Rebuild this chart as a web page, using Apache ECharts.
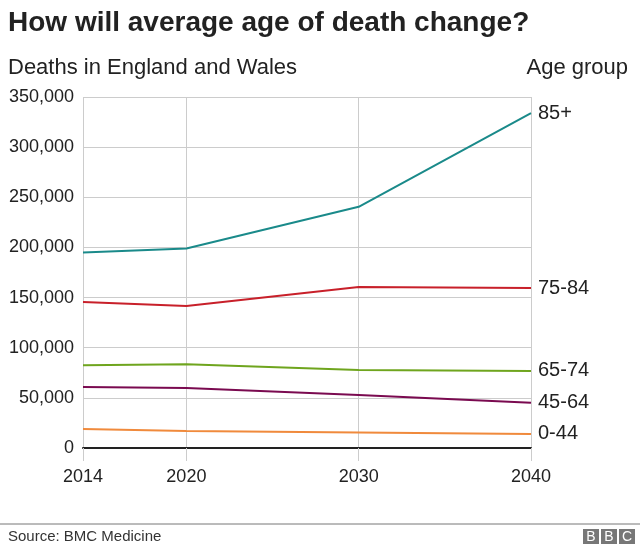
<!DOCTYPE html>
<html>
<head>
<meta charset="utf-8">
<script src="https://cdn.jsdelivr.net/npm/echarts@6/dist/echarts.min.js"></script>
<style>
html,body{margin:0;padding:0;background:#fff;}
#c{width:640px;height:550px;}
</style>
</head>
<body>
<div id="c"></div>
<script>
var years = [2014, 2020, 2030, 2040];
var xTicks = [2014, 2020, 2030, 2040];
var yTicks = [0, 50000, 100000, 150000, 200000, 250000, 300000, 350000];
var ageGroups = ['85+', '75-84', '65-74', '45-64', '0-44'];
var s85 = [195000, 199000, 240500, 334000];
var s75 = [145500, 141500, 160500, 159500];
var s65 = [82500, 83500, 77800, 76800];
var s45 = [60800, 59800, 52800, 45000];
var s0 = [19000, 17000, 15500, 14000];
var seriesValues = [s85, s75, s65, s45, s0];
var colors = ['#1a8a8a', '#c8202a', '#6fa51e', '#7a0a50', '#f08a3c'];

function fmt(v){ return String(v).replace(/\B(?=(\d{3})+(?!\d))/g, ','); }

var chart = echarts.init(document.getElementById('c'));
var font = 'Liberation Sans, Arial, Helvetica, sans-serif';
chart.setOption({
  animation: false,
  textStyle: {fontFamily: font},
  title: [
    {text: 'How will average age of death change?', left: 3, top: 4, padding: 5,
     textStyle: {fontSize: 28, fontWeight: 'bold', color: '#222', fontFamily: font}},
    {text: 'Deaths in England and Wales', left: 3, top: 52, padding: 5,
     textStyle: {fontSize: 22, fontWeight: 'normal', color: '#222', fontFamily: font}},
    {text: 'Age group', right: 7, top: 52, padding: 5,
     textStyle: {fontSize: 22, fontWeight: 'normal', color: '#222', fontFamily: font}},
    {text: 'Source: BMC Medicine', left: 3, top: 524, padding: 5,
     textStyle: {fontSize: 15, fontWeight: 'normal', color: '#333', fontFamily: font}}
  ],
  graphic: [
    {type: 'line', shape: {x1: 0, y1: 524, x2: 640, y2: 524}, style: {stroke: '#777', lineWidth: 1}},
    {type: 'rect', shape: {x: 583, y: 529, width: 16, height: 15}, style: {fill: '#777'}},
    {type: 'rect', shape: {x: 601, y: 529, width: 16, height: 15}, style: {fill: '#777'}},
    {type: 'rect', shape: {x: 619, y: 529, width: 16, height: 15}, style: {fill: '#777'}},
    {type: 'text', x: 591, y: 537, style: {text: 'B', fill: '#fff', font: '14px ' + font, align: 'center', verticalAlign: 'middle'}},
    {type: 'text', x: 609, y: 537, style: {text: 'B', fill: '#fff', font: '14px ' + font, align: 'center', verticalAlign: 'middle'}},
    {type: 'text', x: 627, y: 537, style: {text: 'C', fill: '#fff', font: '14px ' + font, align: 'center', verticalAlign: 'middle'}}
  ],
  grid: {left: 83, right: 109, top: 97, bottom: 102, containLabel: false},
  xAxis: {
    type: 'value', min: 2014, max: 2040,
    axisLine: {show: true, onZero: true, lineStyle: {color: '#222', width: 2}},
    axisTick: {show: true, customValues: xTicks, length: 13, lineStyle: {color: '#ccc', width: 1}},
    axisLabel: {customValues: xTicks, fontSize: 18, color: '#222', margin: 20, formatter: function(v){return String(v);}},
    splitLine: {show: true, lineStyle: {color: '#ccc', width: 1}}
  },
  yAxis: {
    type: 'value', min: 0, max: 350000, interval: 50000,
    axisLine: {show: false}, axisTick: {show: false},
    axisLabel: {fontSize: 18, color: '#222', margin: 9, formatter: function(v){ return fmt(v); }},
    splitLine: {show: true, lineStyle: {color: '#ccc', width: 1}}
  },
  series: ageGroups.map(function(name, i){
    return {
      name: name, type: 'line', symbol: 'none', z: 5,
      data: years.map(function(y, j){ return [y, seriesValues[i][j]]; }),
      lineStyle: {color: colors[i], width: 2},
      itemStyle: {color: colors[i]},
      endLabel: {show: true, formatter: function(p){ return p.seriesName; }, fontSize: 20, color: '#222', distance: 7}
    };
  })
});
</script>
</body>
</html>
